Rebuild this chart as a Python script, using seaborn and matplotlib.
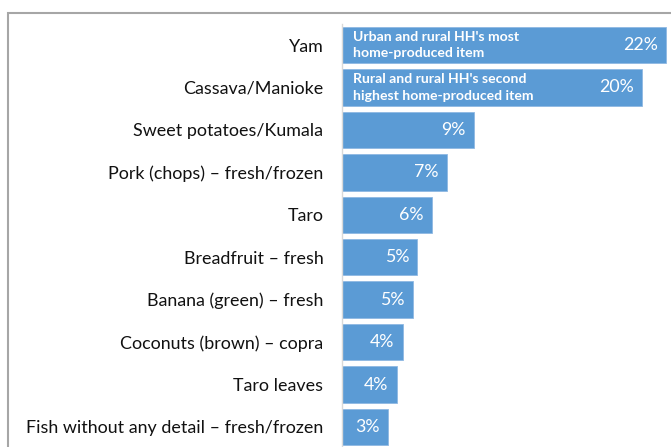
import matplotlib.pyplot as plt
import matplotlib.patches as patches
import seaborn as sns

# Данные
items = ['Yam', 'Cassava/Manioke', 'Sweet potatoes/Kumala', 'Pork (chops) – fresh/frozen',
         'Taro', 'Breadfruit – fresh', 'Banana (green) – fresh', 'Coconuts (brown) – copra',
         'Taro leaves', 'Fish without any detail – fresh/frozen']
shares = [21.9, 20.3, 8.9, 7.1, 6.1, 5.1, 4.8, 4.1, 3.7, 3.1]
notes = {0: "Urban and rural HH's most\nhome-produced item",
         1: "Rural and rural HH's second\nhighest home-produced item"}

sns.set_style("white")
plt.rcParams['font.family'] = ['Lato', 'DejaVu Sans']

fig = plt.figure(figsize=(6.71, 4.47), dpi=100)
ax = fig.add_axes([342 / 671, -1.2 / 447, 329 / 671, 424.4 / 447])

sns.barplot(x=shares, y=items, orient='h', color='#5b9bd5', width=0.86,
            edgecolor='#8fb8e3', linewidth=0.6, saturation=1, ax=ax)

ax.set_xlim(0, 22.24)
ax.set_ylim(9.5, -0.5)
ax.set_xlabel('')
ax.set_ylabel('')
ax.set_xticks([])
ax.tick_params(axis='y', length=0, pad=13.5, labelsize=12.9, labelcolor='#111111')
for side in ['top', 'right', 'bottom']:
    ax.spines[side].set_visible(False)
ax.spines['left'].set_color('#d9d9d9')
ax.spines['left'].set_linewidth(1)

# Подписи процентов
for i, v in enumerate(shares):
    ax.annotate(f'{round(v)}%', xy=(v, i), xytext=(-6, 0), textcoords='offset points',
                ha='right', va='center', color='white', fontsize=12.8)

# Пояснения в первых двух столбцах
for i, txt in notes.items():
    ax.text(0.72, i, txt, ha='left', va='center', color='white', fontsize=10.1,
            fontweight='bold', linespacing=1.45)

# Рамка
fig.patches.append(patches.Rectangle((7.5 / 671, -0.1), 1.2, 1.1 - 13 / 447,
                                     transform=fig.transFigure, fill=False,
                                     edgecolor='#a6a6a6', linewidth=1.5))

fig.savefig('out.png', dpi=100)
